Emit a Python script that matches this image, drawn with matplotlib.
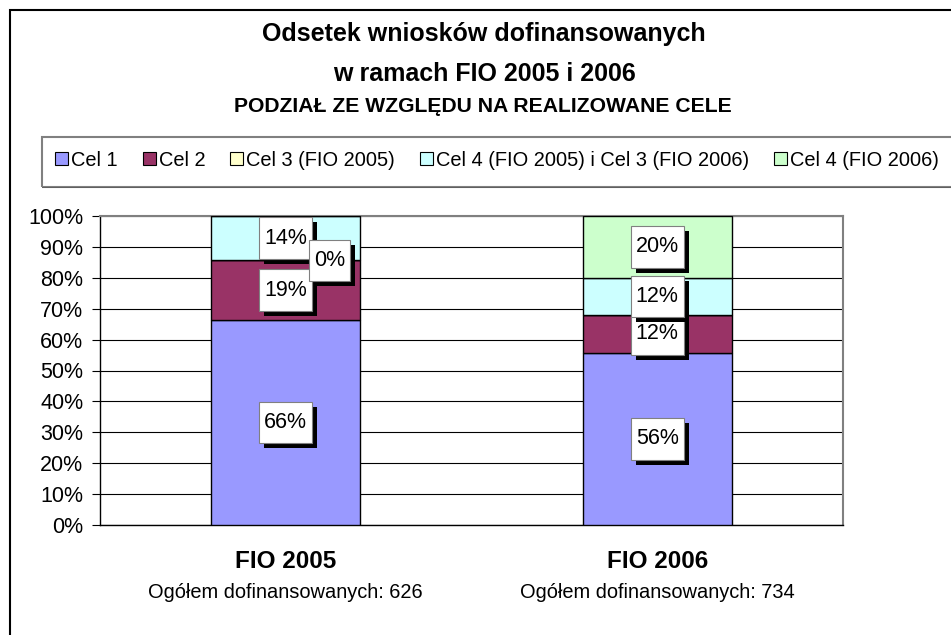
import matplotlib
matplotlib.use("Agg")
import matplotlib.pyplot as plt
import matplotlib.patheffects as pe
from matplotlib.patches import Patch, Rectangle
from matplotlib.path import Path
import numpy as np

plt.rcParams['font.family'] = ['Liberation Sans', 'DejaVu Sans']

# data (percent of funded applications)
categories = ["FIO 2005", "FIO 2006"]
totals = [626, 734]
series_names = ["Cel 1", "Cel 2", "Cel 3 (FIO 2005)",
                "Cel 4 (FIO 2005) i Cel 3 (FIO 2006)", "Cel 4 (FIO 2006)"]
cel1 = [66.4, 55.8]
cel2 = [19.2, 12.1]
cel3_2005 = [0.0, None]
cel4_2005 = [14.4, 12.1]
cel4_2006 = [None, 20.0]
colors = ["#9999FF", "#993366", "#FFFFCC", "#CCFFFF", "#CCFFCC"]

series = [cel1, cel2, cel3_2005, cel4_2005, cel4_2006]

W, H = 951, 635
fig = plt.figure(figsize=(W / 100, H / 100), dpi=100)
ax = fig.add_axes([100 / W, 1 - 525 / H, (843 - 100) / W, (525 - 216) / H])


def tall_box(x0, y0, width, height, mutation_size):
    # Excel style label box: more padding above/below than sideways
    px = 0.24 * mutation_size
    py = 0.48 * mutation_size
    x0, y0 = x0 - px, y0 - py
    x1, y1 = x0 + width + 2 * px, y0 + height + 2 * py
    return Path([(x0, y0), (x1, y0), (x1, y1), (x0, y1), (x0, y0)],
                closed=True)


shadow = [pe.SimplePatchShadow(offset=(3.6, -3.6), shadow_rgbFace='black',
                               alpha=1.0), pe.Normal()]

x = np.arange(len(categories))
bottom = np.zeros(len(categories))
for vals, col, name in zip(series, colors, series_names):
    h = np.array([v if v is not None else 0.0 for v in vals])
    ax.bar(x, h, 0.4, bottom=bottom, color=col, edgecolor='black',
           linewidth=1.0, zorder=3)
    for i, v in enumerate(vals):
        if v is None:
            continue
        mid = bottom[i] + v / 2
        dx, z = 0, 5
        if v == 0:
            dx, z = 44, 6  # zero-height label is pushed right, on top
        t = ax.annotate("%d%%" % round(v), xy=(x[i], mid), xytext=(dx, 0),
                        textcoords='offset pixels', ha='center', va='center',
                        fontsize=15.5, color='black', zorder=z,
                        bbox=dict(boxstyle=tall_box, fc='white',
                                  ec='#808080', lw=0.8))
        t.get_bbox_patch().set_path_effects(shadow)
    bottom = bottom + h

ax.set_xlim(-0.5, 1.5)
ax.set_ylim(0, 100)
ax.set_yticks(np.arange(0, 101, 10))
ax.set_yticklabels(["%d%%" % t for t in range(0, 101, 10)], fontsize=15.5)
ax.tick_params(axis='y', length=6, width=0.8, pad=6, direction='out')
ax.set_xticks([])
ax.yaxis.grid(True, color='black', linewidth=0.8, zorder=0)
ax.set_axisbelow(True)
for s in ['left', 'bottom']:
    ax.spines[s].set_color('black')
    ax.spines[s].set_linewidth(1.0)
for s in ['top', 'right']:
    ax.spines[s].set_color('#808080')
    ax.spines[s].set_linewidth(1.5)

# category labels under the bars
for i, (c, t) in enumerate(zip(categories, totals)):
    xf = (100 + (i + 0.5) * (843 - 100) / 2) / W
    fig.text(xf, 1 - 562 / H, c, ha='center', va='center',
             fontsize=17.5, fontweight='bold')
    fig.text(xf, 1 - 593 / H, "Ogółem dofinansowanych: %d" % t,
             ha='center', va='center', fontsize=14.4)

# titles
fig.text(484 / W, 1 - 34 / H, "Odsetek wniosków dofinansowanych",
         ha='center', va='center', fontsize=18, fontweight='bold')
fig.text(484 / W, 1 - 74 / H, "w ramach FIO 2005 i 2006",
         ha='center', va='center', fontsize=18, fontweight='bold')
fig.text(483 / W, 1 - 107 / H, "PODZIAŁ ZE WZGLĘDU NA REALIZOWANE CELE",
         ha='center', va='center', fontsize=15.2, fontweight='bold')

# outer chart frame and legend box
fig.add_artist(Rectangle((10 / W, -0.05), 1.2, 1 - 10 / H + 0.05,
                         transform=fig.transFigure, fill=False,
                         ec='black', lw=1.5))
fig.add_artist(Rectangle((42 / W, 1 - 187 / H), 1.0, 50 / H,
                         transform=fig.transFigure, fill=False,
                         ec='#808080', lw=1.5))
fig.add_artist(Rectangle((42 / W, 1 - 188 / H), 1.0, 1 / H,
                         transform=fig.transFigure, fill=True,
                         fc='#606060', ec='none'))

handles = [Patch(facecolor=c, edgecolor='black', linewidth=0.8) for c in colors]
fig.legend(handles, series_names, loc='center left',
           bbox_to_anchor=(55 / W, 1 - 160 / H), ncol=5, frameon=False,
           fontsize=14.4, handlelength=0.65, handleheight=0.65,
           handletextpad=0.15, columnspacing=1.25, borderpad=0,
           borderaxespad=0)

fig.savefig("out.png", dpi=100)
